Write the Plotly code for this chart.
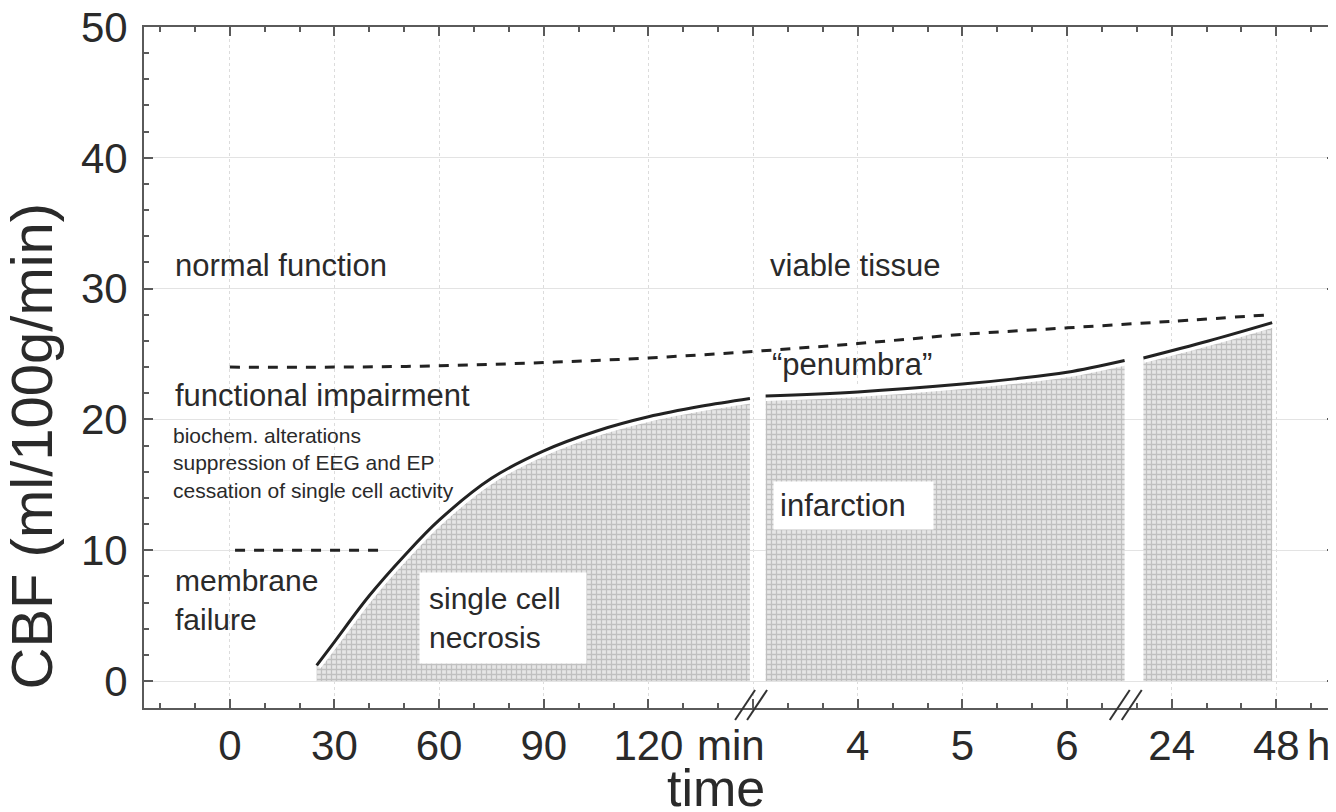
import plotly.graph_objects as go

# ---------------- data ----------------
# x axis positions: 0..4 = 0,30,60,90,120 min ; 6..8 = 4,5,6 h ; 9,10 = 24,48 h
tick_pos = [0, 1, 2, 3, 4, 5, 6, 7, 8, 9, 10]
tick_text = ["0", "30", "60", "90", "120", "", "4", "5", "6", "24", "48"]
unit_text = ["min", "h"]
unit_pos = [4, 10]
break_pos = [5.0, 8.58]

# CBF curve (ml/100g/min), three segments separated by axis breaks
seg1_x = [0.83, 1.0, 1.33, 1.67, 2.0, 2.5, 3.0, 3.5, 4.0, 4.5, 4.97]
seg1_y = [1.2, 3.0, 6.5, 9.6, 12.3, 15.5, 17.6, 19.1, 20.2, 21.0, 21.6]
seg2_x = [5.12, 6.0, 7.0, 7.5, 8.0, 8.55]
seg2_y = [21.8, 22.1, 22.7, 23.1, 23.6, 24.5]
seg3_x = [8.73, 9.35, 9.96]
seg3_y = [24.7, 26.0, 27.4]

# thresholds (dashed)
upper_x = [0, 1, 2, 3, 4, 5, 6, 7, 8, 9, 9.93]
upper_y = [24.0, 24.0, 24.1, 24.35, 24.7, 25.2, 25.8, 26.5, 27.0, 27.5, 28.0]
lower_x = [0.05, 1.49]
lower_y = [10, 10]

FONT = "Liberation Sans, Arial, sans-serif"
TXT = "#2a2a2a"
AX = "#5a5a5a"

fig = go.Figure()

segments = [(seg1_x, seg1_y), (seg2_x, seg2_y), (seg3_x, seg3_y)]
for sx, sy in segments:
    fig.add_trace(go.Scatter(
        x=sx, y=sy, mode="lines", fill="tozeroy", line=dict(width=0, color="rgba(0,0,0,0)"),
        fillcolor="#e2e2e2",
        fillpattern=dict(shape="+", size=5, solidity=0.45, fgcolor="#9a9a9a", bgcolor="#e6e6e6"),
        hoverinfo="skip", showlegend=False))
for sx, sy in segments:
    fig.add_trace(go.Scatter(x=sx, y=sy, mode="lines", line=dict(width=10, color="white", shape="spline"),
                             hoverinfo="skip", showlegend=False))
for sx, sy in segments:
    fig.add_trace(go.Scatter(x=sx, y=sy, mode="lines", line=dict(width=3, color="#222", shape="spline"),
                             showlegend=False))

fig.add_trace(go.Scatter(x=upper_x, y=upper_y, mode="lines",
                         line=dict(width=3, color="#222", dash="10px,9px", shape="spline"), showlegend=False))
fig.add_trace(go.Scatter(x=lower_x, y=lower_y, mode="lines",
                         line=dict(width=3, color="#222", dash="10px,9px"), showlegend=False))

# text labels
def label(text, x, y, size, **kw):
    fig.add_annotation(text=text, x=x, y=y, xref="x", yref="y", showarrow=False,
                       xanchor=kw.pop("xanchor", "left"), yanchor="middle", align="left",
                       font=dict(family=FONT, size=size, color=TXT), **kw)

label("normal function", -0.544, 31.8, 31)
label("viable tissue", 5.14, 31.8, 31)
label("\u201cpenumbra\u201d", 5.16, 24.2, 31)
label("functional impairment", -0.544, 21.8, 31)
label("biochem. alterations<br>suppression of EEG and EP<br>cessation of single cell activity",
      -0.56, 16.7, 21)
label("membrane<br>failure", -0.544, 6.2, 30)
label("single cell<br>necrosis", 1.81, 4.8, 30, bgcolor="white", borderpad=9, width=148)
label("infarction", 5.96, 13.4, 31, xanchor="center", bgcolor="white", borderpad=6, width=147)

# units after tick labels
for t, p in zip(unit_text, unit_pos):
    fig.add_annotation(text=t, x=p, xref="x", y=0, yref="paper", yanchor="middle", xanchor="left",
                       xshift=47 if t == "min" else 29, yshift=-37, showarrow=False,
                       font=dict(family=FONT, size=42, color=TXT))

# axis titles
fig.add_annotation(text="time", x=0.48, xref="paper", y=0, yref="paper", yanchor="middle",
                   yshift=-80, showarrow=False, font=dict(family=FONT, size=52, color=TXT))
fig.add_annotation(text="CBF (ml/100g/min)", x=0, xref="paper", xshift=-113, y=0.384, yref="paper",
                   textangle=-90, showarrow=False, xanchor="center", yanchor="middle",
                   font=dict(family=FONT, size=58, color=TXT))

# axis break marks
for b in break_pos:
    for dx in (0, 12):
        fig.add_shape(type="line", xref="x", xsizemode="pixel", xanchor=b,
                      x0=-18 + dx, x1=2 + dx, yref="paper", ysizemode="pixel", yanchor=0,
                      y0=-12, y1=18, line=dict(color="#333", width=2))

fig.update_xaxes(range=[-0.82, 10.57], tickmode="array", tickvals=tick_pos, ticktext=tick_text,
                 ticks="inside", ticklen=9, tickwidth=2, tickcolor=AX, automargin=False,
                 showline=True, linecolor=AX, linewidth=2, mirror="allticks",
                 showgrid=True, gridcolor="#dcdcdc", gridwidth=1, griddash="dot", zeroline=False,
                 minor=dict(ticks="inside", ticklen=5, tickwidth=1.5, tickcolor=AX,
                            tickmode="linear", tick0=0, dtick=1/3, showgrid=False),
                 tickfont=dict(family=FONT, size=42, color=TXT), ticklabelstandoff=0,
                 ticklabeloverflow="allow")
fig.update_yaxes(range=[-2.06, 50], tickmode="linear", tick0=0, dtick=10,
                 ticks="inside", ticklen=9, tickwidth=2, tickcolor=AX, automargin=False,
                 showline=True, linecolor=AX, linewidth=2, mirror="allticks",
                 showgrid=True, gridcolor="#e3e3e3", gridwidth=1, zeroline=False,
                 minor=dict(ticks="inside", ticklen=5, tickwidth=1.5, tickcolor=AX,
                            tickmode="linear", tick0=0, dtick=2, showgrid=False),
                 tickfont=dict(family=FONT, size=42, color=TXT), ticklabelstandoff=6,
                 ticklabeloverflow="allow")

# page body has an 8px margin: size the figure so it fits the 1336x812 window
fig.update_layout(width=1328, height=804, margin=dict(l=136, r=0, t=19, b=104),
                  plot_bgcolor="white", paper_bgcolor="white", showlegend=False,
                  font=dict(family=FONT, color=TXT))

fig.write_html("out.html")
